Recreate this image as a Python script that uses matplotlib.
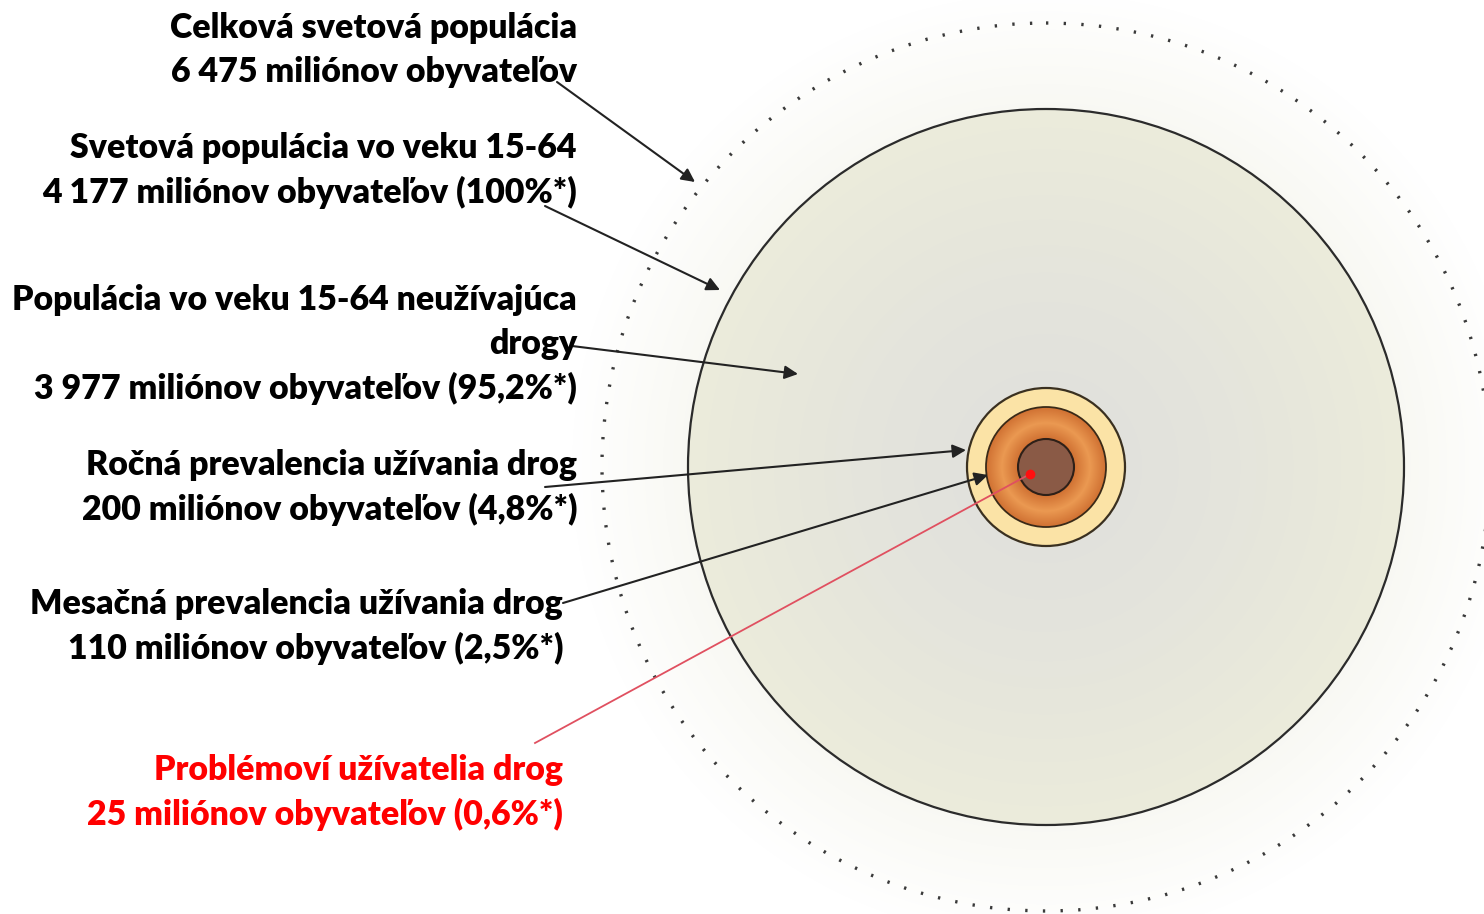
import numpy as np
import matplotlib
matplotlib.use("Agg")
import matplotlib.pyplot as plt
from matplotlib.patches import Circle

# data
labels = [
    "Celková svetová populácia",
    "Svetová populácia vo veku 15-64",
    "Populácia vo veku 15-64 neužívajúca\ndrogy",
    "Ročná prevalencia užívania drog",
    "Mesačná prevalencia užívania drog",
    "Problémoví užívatelia drog",
]
populations = [6475, 4177, 3977, 200, 110, 25]
shares = [None, "100%", "95,2%", "4,8%", "2,5%", "0,6%"]
label_colors = ["black", "black", "black", "black", "black", "red"]

# layout (pixel coords, y down)
W, H = 1484, 914
cx, cy = 1046, 467
text_right = [577, 577, 577, 577, 563, 563]
text_top = [28, 148, 300, 465, 604, 770]
line_step = 44
arrow_from = [(557, 82), (545, 206), (572, 346), (545, 487), (563, 603), (535, 743)]
arrow_to = [(695, 182), (720, 290), (798, 374), (966, 450), (988, 475), (1030, 474)]

r_outer, r_main, r_yellow, r_orange, r_brown = 444, 358, 79, 60, 28


def fmt_pop(v):
    return f"{v:,}".replace(",", " ")


fig = plt.figure(figsize=(W / 100, H / 100), dpi=100)
ax = fig.add_axes([0, 0, 1, 1])
ax.set_xlim(0, W)
ax.set_ylim(H, 0)
ax.axis("off")

# background radial shading
yy, xx = np.mgrid[0:H, 0:W] + 0.5
rr = np.hypot(xx - cx, yy - cy)
img = np.ones((H, W, 3))
out = rr > r_main
t = np.clip((rr - r_main) / (r_outer + 30 - r_main), 0, 1)
base = np.array([0.975, 0.975, 0.955])
for k in range(3):
    img[..., k] = np.where(out, base[k] + (1 - base[k]) * t, 1)
# inside main circle: grey in the middle, cream to the edge
s = np.clip(rr / r_main, 0, 1) ** 1.5
c_in = np.array([0.88, 0.88, 0.865])
c_edge = np.array([0.925, 0.925, 0.86])
for k in range(3):
    img[..., k] = np.where(out, img[..., k], c_in[k] + (c_edge[k] - c_in[k]) * s)
ax.imshow(img, extent=(0, W, H, 0), zorder=0, interpolation="bilinear")

# outer dotted circle
ax.add_patch(Circle((cx, cy), r_outer, fill=False, ec="#3a3a3a", lw=2.4,
                    linestyle=(0, (0.7, 4.6)), zorder=2))
# main circle
ax.add_patch(Circle((cx, cy), r_main, fill=False, ec="#2b2b2b", lw=1.6, zorder=2))

# small rings
ax.add_patch(Circle((cx, cy), r_yellow, fc="#fbe3a6", ec="#3a3020", lw=1.6, zorder=3))
ring = Circle((cx, cy), r_orange, fc="none", ec="#3a2a18", lw=1.3, zorder=5)
ax.add_patch(ring)
sx0, sx1 = cx - r_orange, cx + r_orange
sub_r = rr[int(cy - r_orange):int(cy + r_orange), int(sx0):int(sx1)]
q = np.clip(np.abs(sub_r - 44) / 18, 0, 1)
c_light = np.array([0.92, 0.60, 0.32])
c_dark = np.array([0.80, 0.42, 0.18])
orange = c_light + (c_dark - c_light) * q[..., None]
im = ax.imshow(orange, extent=(sx0, sx1, cy + r_orange, cy - r_orange), zorder=4,
               interpolation="bilinear")
im.set_clip_path(Circle((cx, cy), r_orange, transform=ax.transData))
ax.add_patch(Circle((cx, cy), r_brown, fc="#8a5a46", ec="#2e2018", lw=1.5, zorder=6))

# text labels
for lab, pop, sh, col, xr, yt in zip(labels, populations, shares, label_colors,
                                     text_right, text_top):
    lines = lab.split("\n")
    second = f"{fmt_pop(pop)} miliónov obyvateľov"
    if sh:
        second += f" ({sh}*)"
    lines.append(second)
    for i, ln in enumerate(lines):
        ax.text(xr, yt + i * line_step, ln, ha="right", va="center", color=col,
                fontsize=24.4, fontweight="heavy", family="Lato", zorder=8)

# arrows
for i, (p0, p1) in enumerate(zip(arrow_from, arrow_to)):
    if label_colors[i] == "red":
        ax.plot([p0[0], p1[0]], [p0[1], p1[1]], color="#e05060", lw=1.3, zorder=7)
        ax.plot(p1[0], p1[1], "o", color="#ff1010", ms=6, zorder=7)
    else:
        ax.annotate("", xy=p1, xytext=p0,
                    arrowprops=dict(arrowstyle="-|>", color="#222222", lw=1.5,
                                    mutation_scale=20, shrinkA=0, shrinkB=0),
                    zorder=7)

fig.savefig("out.png", dpi=100)
